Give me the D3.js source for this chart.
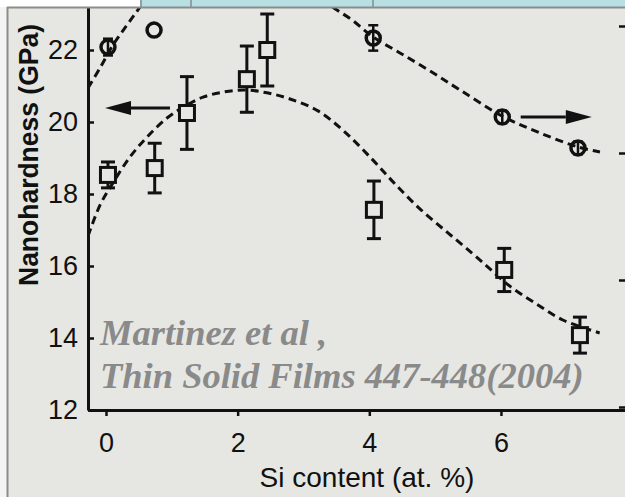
<!DOCTYPE html>
<html><head><meta charset="utf-8">
<script src="https://cdn.jsdelivr.net/npm/d3@7"></script>
<style>body{margin:0;background:#fff}svg{display:block}</style>
</head><body>
<svg id="chart" width="625" height="497"></svg>
<script>
// ---- data ----
const xTicks = [0, 2, 4, 6];
const yTicks = [12, 14, 16, 18, 20, 22];
const rightTicks = [250, 300, 350, 400];

// squares: nanohardness (left axis)
const sqX   = [0.03, 0.74, 1.23, 2.14, 2.45, 4.07, 6.05, 7.20];
const sqY   = [18.53, 18.72, 20.25, 21.19, 22.00, 17.56, 15.89, 14.08];
const sqErr = [0.36, 0.69, 1.01, 0.92, 1.00, 0.80, 0.60, 0.50];

// circles: right-axis quantity
const ciX   = [0.03, 0.73, 4.06, 6.02, 7.17];
const ciY   = [391.7, 398.4, 395.3, 364.2, 352.0];
const ciErr = [3.3, 0, 5.0, 2.5, 2.5];

// dashed fit curves
const fitAX = [-0.273,-0.091,0.106,0.365,0.623,0.927,1.2,1.474,1.777,2.112,2.446,2.795,3.22,3.63,4.056,4.39,4.785,5.195,5.56,5.85,6.15,6.52,6.94,7.5];
const fitAY = [16.83,17.69,18.31,19.03,19.58,20.11,20.44,20.69,20.83,20.89,20.81,20.64,20.31,19.72,18.94,18.28,17.56,16.92,16.36,15.89,15.42,14.97,14.5,14.14];
const fitBX = [-0.273,-0.091,0.106,0.319,0.516,0.82,1.276,1.732,2.187,2.643,3.023,3.403,3.737,4.056,4.466,4.922,5.378,6.015,6.593,7.17,7.504];
const fitBY = [375.6,383.5,392.5,400.4,407.5,420.1,429.1,432.7,431.9,426.0,418.1,408.3,402.4,395.7,389.4,382.3,374.8,364.6,357.9,352.4,350.4];

// arrows (left-axis units)
const arrowFrom = [0.972, 6.30];
const arrowTo   = [-0.015, 7.38];
const arrowY    = [20.39, 20.14];

const xTitle = "Si content (at. %)";
const yTitle = "Nanohardness (GPa)";
const note1 = "Martinez et al ,";
const note2 = "Thin Solid Films 447-448(2004)";

// ---- drawing ----
const svg = d3.select("#chart");
const W = 625, H = 497;
const ink = "#111111";
const bg = "#e6e7e3";

svg.append("rect").attr("width", W).attr("height", H).attr("fill", "#f3f3f3");
svg.append("rect").attr("x", 7).attr("y", 7).attr("width", W - 7).attr("height", H - 7).attr("fill", bg);

const x = d3.scaleLinear().domain([-0.2734, 8]).range([88, 632.6]);
const y = d3.scaleLinear().domain([12, 23.2]).range([410, 6.8]);
const yR = d3.scaleLinear().domain([250, 400]).range([407, 26]);

svg.append("defs").append("clipPath").attr("id", "plot")
  .append("rect").attr("x", 88).attr("y", 8).attr("width", 560).attr("height", 402);

const g = svg.append("g").attr("clip-path", "url(#plot)");

const lineA = d3.line().x(d => x(d[0])).y(d => y(d[1])).curve(d3.curveCatmullRom.alpha(0.5));
const lineB = d3.line().x(d => x(d[0])).y(d => yR(d[1])).curve(d3.curveCatmullRom.alpha(0.5));

g.append("path").datum(d3.zip(fitAX, fitAY)).attr("d", lineA)
  .attr("fill", "none").attr("stroke", ink).attr("stroke-width", 3).attr("stroke-dasharray", "8,5");
g.append("path").datum(d3.zip(fitBX, fitBY)).attr("d", lineB)
  .attr("fill", "none").attr("stroke", ink).attr("stroke-width", 3).attr("stroke-dasharray", "8,5");

// square error bars
const sq = d3.range(sqX.length).map(i => ({x: sqX[i], y: sqY[i], e: sqErr[i]}));
const sqG = g.append("g").attr("stroke", ink).attr("stroke-width", 3).attr("fill", "none");
sq.forEach(d => {
  const cx = x(d.x), y1 = y(d.y + d.e), y2 = y(d.y - d.e);
  sqG.append("line").attr("x1", cx).attr("x2", cx).attr("y1", y1).attr("y2", y2);
  sqG.append("line").attr("x1", cx - 7).attr("x2", cx + 7).attr("y1", y1).attr("y2", y1);
  sqG.append("line").attr("x1", cx - 7).attr("x2", cx + 7).attr("y1", y2).attr("y2", y2);
  sqG.append("rect").attr("x", cx - 7.5).attr("y", y(d.y) - 7.5).attr("width", 15).attr("height", 15)
    .attr("fill", bg);
});

// circles
const ci = d3.range(ciX.length).map(i => ({x: ciX[i], y: ciY[i], e: ciErr[i]}));
const ciG = g.append("g").attr("stroke", ink).attr("fill", "none");
ci.forEach(d => {
  const cx = x(d.x);
  if (d.e > 0) {
    const y1 = yR(d.y + d.e), y2 = yR(d.y - d.e);
    ciG.append("line").attr("x1", cx).attr("x2", cx).attr("y1", y1).attr("y2", y2).attr("stroke-width", 2.5);
    ciG.append("line").attr("x1", cx - 5).attr("x2", cx + 5).attr("y1", y1).attr("y2", y1).attr("stroke-width", 2.5);
    ciG.append("line").attr("x1", cx - 5).attr("x2", cx + 5).attr("y1", y2).attr("y2", y2).attr("stroke-width", 2.5);
  }
  ciG.append("circle").attr("cx", cx).attr("cy", yR(d.y)).attr("r", 7).attr("stroke-width", 3.5);
});

// arrows
arrowFrom.forEach((xf, i) => {
  const x1 = x(xf), x2 = x(arrowTo[i]), yy = y(arrowY[i]);
  const dir = Math.sign(x2 - x1);
  const hb = x2 - dir * 26;
  g.append("line").attr("x1", x1).attr("x2", hb).attr("y1", yy).attr("y2", yy)
    .attr("stroke", ink).attr("stroke-width", 3);
  g.append("path").attr("d", `M${x2},${yy}L${hb},${yy - 7}L${hb},${yy + 7}Z`).attr("fill", ink);
});

// axes
const xAxis = d3.axisBottom(x).tickValues(xTicks).tickSizeInner(6).tickSizeOuter(0).tickPadding(17);
const yAxis = d3.axisLeft(y).tickValues(yTicks).tickSizeInner(-6).tickSizeOuter(0).tickPadding(10);
const rAxis = d3.axisRight(yR).tickValues(rightTicks).tickSizeInner(-8).tickSizeOuter(0).tickFormat("");

function style(sel, fs) {
  sel.select(".domain").attr("stroke", ink).attr("stroke-width", 3);
  sel.selectAll(".tick line").attr("stroke", ink).attr("stroke-width", 2.5);
  sel.selectAll(".tick text").attr("fill", ink)
    .style("font-family", "'Liberation Sans', Arial, sans-serif").style("font-size", fs + "px");
}
svg.append("g").attr("transform", "translate(0,410)").call(xAxis).call(s => style(s, 27));
svg.append("g").attr("transform", "translate(88,0)").call(yAxis).call(s => style(s, 27));
svg.append("g").attr("transform", "translate(627,0)").call(rAxis).call(s => style(s, 27));

// titles
svg.append("text").attr("x", 367).attr("y", 487).attr("text-anchor", "middle")
  .style("font-family", "'Liberation Sans', Arial, sans-serif").style("font-size", "28px")
  .attr("fill", ink).text(xTitle);
svg.append("text").attr("transform", "translate(38,286) rotate(-90)")
  .attr("textLength", 262).attr("lengthAdjust", "spacingAndGlyphs")
  .style("font-family", "'Liberation Sans', Arial, sans-serif").style("font-size", "28px")
  .style("font-weight", "bold").attr("fill", ink).text(yTitle);

// citation overlay
const noteG = svg.append("g").style("font-family", "'Liberation Serif', 'Times New Roman', serif")
  .style("font-size", "36.5px").style("font-weight", "bold").style("font-style", "italic").attr("fill", "#8a8a8a");
noteG.append("text").attr("x", 100).attr("y", 345).text(note1);
noteG.append("text").attr("x", 100).attr("y", 388).text(note2);

// slide frame on top
svg.append("rect").attr("x", 0).attr("y", 0).attr("width", 140).attr("height", 7).attr("fill", "#ffffff");
svg.append("rect").attr("x", 140).attr("y", 0).attr("width", W - 140).attr("height", 7).attr("fill", "#b8dfe2");
[141, 191, 373].forEach(v => svg.append("line").attr("x1", v).attr("x2", v).attr("y1", 0).attr("y2", 7)
  .attr("stroke", "#7d8f92").attr("stroke-width", 1.5));
svg.append("line").attr("x1", 7).attr("x2", W).attr("y1", 7.5).attr("y2", 7.5).attr("stroke", "#8c8c8c").attr("stroke-width", 2);
svg.append("line").attr("x1", 7.5).attr("x2", 7.5).attr("y1", 7).attr("y2", H).attr("stroke", "#8c8c8c").attr("stroke-width", 2);
</script>
</body></html>
